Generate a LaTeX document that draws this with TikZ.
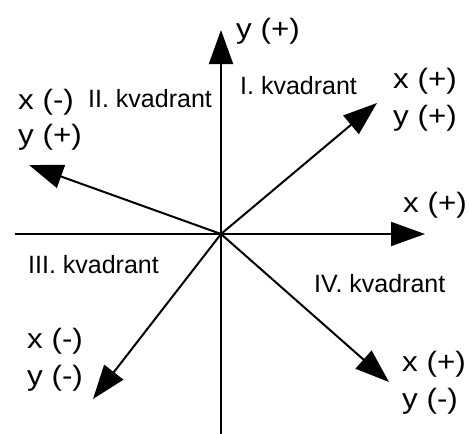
\documentclass[tikz,border=0pt]{standalone}
\usepackage{fontspec}
\setmainfont{Liberation Sans}
\usetikzlibrary{arrows.meta}
\newcommand{\widetxt}[1]{\scalebox{1.12}[1]{#1}}
\begin{document}
\begin{tikzpicture}[x=1pt,y=-1pt,
  axisline/.style={line width=2pt},
  vec/.style={line width=2pt,-{Triangle[length=34pt,width=24pt]}},
  lbl/.style={anchor=base west, inner sep=0pt, font=\fontsize{28}{34}\selectfont},
  quad/.style={anchor=base west, inner sep=0pt, font=\fontsize{25}{30}\selectfont}]
\useasboundingbox (0,0) rectangle (469,434);
\coordinate (O) at (221,234);
\coordinate (L) at (15,234);
\coordinate (B) at (221,434);
\coordinate (T) at (221,30);
\coordinate (R) at (425,234);
\coordinate (UR) at (377,103);
\coordinate (UL) at (29,165);
\coordinate (LL) at (93,399);
\coordinate (LR) at (389,382);
% axes
\draw[axisline] (L) -- (O);
\draw[axisline] (B) -- (O);
\draw[vec] (O) -- (T);
\draw[vec] (O) -- (R);
% vectors
\draw[vec] (O) -- (UR);
\draw[vec] (O) -- (UL);
\draw[vec] (O) -- (LL);
\draw[vec] (O) -- (LR);
% labels
\node[lbl] (ty) at (236,38) {\widetxt{y (+)}};
\node[lbl] (rx) at (403,212) {\widetxt{x (+)}};
\node[lbl] (urx) at (393,88) {\widetxt{x (+)}};
\node[lbl] (ury) at (393,125) {\widetxt{y (+)}};
\node[lbl] (ulx) at (18,109) {\widetxt{x (-)}};
\node[lbl] (uly) at (18,144) {\widetxt{y (+)}};
\node[lbl] (llx) at (27,348) {\widetxt{x (-)}};
\node[lbl] (lly) at (27,385) {\widetxt{y (-)}};
\node[lbl] (lrx) at (402,371) {\widetxt{x (+)}};
\node[lbl] (lry) at (402,408) {\widetxt{y (-)}};
% quadrant names
\node[quad] (q1) at (240,94) {I. kvadrant};
\node[quad] (q2) at (88,107) {II. kvadrant};
\node[quad] (q3) at (28,273) {III. kvadrant};
\node[quad] (q4) at (314,292) {IV. kvadrant};
\end{tikzpicture}
\end{document}
